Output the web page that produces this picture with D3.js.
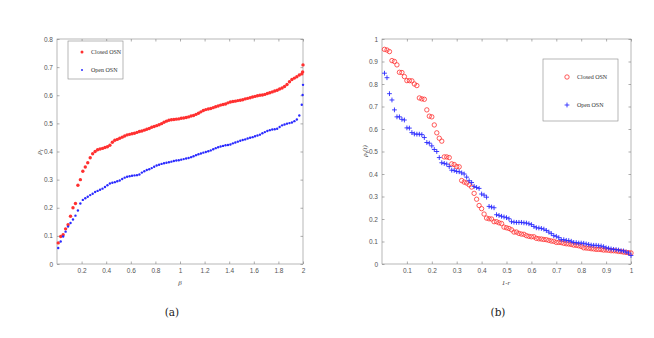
<!DOCTYPE html>
<html>
<head>
<meta charset="utf-8">
<script src="https://cdn.jsdelivr.net/npm/d3@7"></script>
<style>
  html, body { margin: 0; padding: 0; background: #fff; }
  svg { display: block; }
  .tick text { font-family: "Liberation Sans", Arial, sans-serif; font-size: 6.5px; fill: #555; }
  .tick line { stroke: #777; stroke-width: 0.6; }
  .domain { stroke: none; }
</style>
</head>
<body>
<svg id="svg" width="654" height="338"></svg>
<script>
// ---- panel (a): rho_I versus beta ----
var betaVals = d3.range(100).map(function(i){ return 0.01 + 0.02 * i; }).concat([1.997, 2.0]);
var rhoClosedA = [
  0.075,0.098,0.104,0.125,0.140,0.170,0.200,0.215,0.280,0.300,
  0.330,0.345,0.360,0.378,0.392,0.400,0.406,0.409,0.411,0.414,
  0.417,0.422,0.433,0.440,0.443,0.447,0.451,0.455,0.459,0.461,
  0.463,0.465,0.468,0.471,0.473,0.476,0.479,0.482,0.486,0.489,
  0.492,0.495,0.499,0.504,0.508,0.511,0.513,0.514,0.515,0.516,
  0.518,0.519,0.521,0.523,0.526,0.528,0.532,0.536,0.541,0.546,
  0.549,0.551,0.553,0.556,0.559,0.562,0.565,0.567,0.569,0.573,
  0.576,0.578,0.579,0.581,0.582,0.584,0.587,0.589,0.591,0.594,
  0.596,0.598,0.600,0.601,0.603,0.606,0.609,0.612,0.615,0.618,
  0.622,0.626,0.631,0.638,0.648,0.656,0.661,0.666,0.672,0.676,
  0.683,0.708
];
var rhoOpenA = [
  0.057,0.080,0.098,0.115,0.133,0.146,0.158,0.172,0.190,0.215,
  0.228,0.234,0.239,0.245,0.250,0.256,0.260,0.264,0.268,0.274,
  0.280,0.286,0.289,0.291,0.294,0.297,0.302,0.307,0.310,0.312,
  0.314,0.315,0.316,0.318,0.325,0.330,0.334,0.337,0.341,0.346,
  0.350,0.353,0.356,0.358,0.360,0.362,0.364,0.366,0.368,0.369,
  0.371,0.373,0.375,0.377,0.380,0.383,0.387,0.390,0.393,0.396,
  0.398,0.401,0.404,0.408,0.412,0.415,0.418,0.420,0.422,0.423,
  0.425,0.429,0.432,0.435,0.438,0.441,0.443,0.446,0.449,0.451,
  0.454,0.457,0.460,0.465,0.469,0.473,0.476,0.478,0.479,0.481,
  0.487,0.493,0.496,0.499,0.501,0.503,0.508,0.514,0.528,0.566,
  0.601,0.637
];

// ---- panel (b): rho_I(t) versus 1-r ----
var oneMinusR = d3.range(1, 101).map(function(i){ return i / 100; });
var rhoClosedB = [
  0.954,0.951,0.944,0.904,0.900,0.885,0.852,0.851,0.833,0.815,
  0.815,0.814,0.800,0.793,0.738,0.734,0.732,0.685,0.657,0.654,
  0.618,0.583,0.559,0.546,0.476,0.476,0.473,0.445,0.442,0.433,
  0.432,0.371,0.364,0.360,0.352,0.342,0.314,0.288,0.260,0.246,
  0.222,0.204,0.201,0.200,0.188,0.188,0.183,0.180,0.164,0.161,
  0.158,0.152,0.142,0.142,0.136,0.133,0.132,0.126,0.123,0.121,
  0.121,0.114,0.112,0.111,0.109,0.108,0.105,0.102,0.101,0.096,
  0.096,0.095,0.092,0.090,0.089,0.087,0.084,0.083,0.081,0.078,
  0.072,0.071,0.070,0.068,0.067,0.065,0.065,0.064,0.062,0.062,
  0.061,0.059,0.059,0.058,0.056,0.055,0.053,0.052,0.050,0.049
];
var rhoOpenB = [
  0.848,0.828,0.757,0.729,0.685,0.654,0.654,0.643,0.640,0.605,
  0.604,0.584,0.578,0.577,0.577,0.575,0.562,0.540,0.537,0.525,
  0.509,0.500,0.473,0.450,0.447,0.444,0.433,0.417,0.416,0.411,
  0.410,0.405,0.400,0.386,0.370,0.362,0.345,0.340,0.336,0.311,
  0.306,0.297,0.256,0.253,0.250,0.219,0.216,0.212,0.209,0.206,
  0.201,0.188,0.186,0.185,0.185,0.185,0.183,0.182,0.179,0.175,
  0.167,0.161,0.160,0.158,0.155,0.149,0.142,0.135,0.126,0.123,
  0.117,0.108,0.108,0.105,0.104,0.101,0.096,0.095,0.093,0.093,
  0.092,0.089,0.087,0.084,0.083,0.083,0.081,0.080,0.077,0.072,
  0.070,0.067,0.065,0.064,0.062,0.059,0.058,0.053,0.049,0.038
];

var seriesNames = ["Closed OSN", "Open OSN"];
var xTicksA = [0.2,0.4,0.6,0.8,1,1.2,1.4,1.6,1.8,2];
var yTicksA = [0,0.1,0.2,0.3,0.4,0.5,0.6,0.7,0.8];
var xTicksB = [0.1,0.2,0.3,0.4,0.5,0.6,0.7,0.8,0.9,1];
var yTicksB = [0,0.1,0.2,0.3,0.4,0.5,0.6,0.7,0.8,0.9,1];

var red = "#ff3030", blue = "#2a2aff";
var svg = d3.select("#svg");

function drawBox(x, y, xt, yt){
	var g = svg.append("g");
	var x0 = x.range()[0], x1 = x.range()[1], y0 = y.range()[0], y1 = y.range()[1];
	var fmt = function(d){ return String(d); };
	g.append("g").attr("transform", "translate(0," + y0 + ")")
		.call(d3.axisBottom(x).tickValues(xt).tickSizeInner(-2.5).tickSizeOuter(0).tickPadding(4).tickFormat(fmt));
	g.append("g").attr("transform", "translate(0," + y1 + ")")
		.call(d3.axisTop(x).tickValues(xt).tickSizeInner(-2.5).tickSizeOuter(0).tickFormat(""));
	g.append("g").attr("transform", "translate(" + x0 + ",0)")
		.call(d3.axisLeft(y).tickValues(yt).tickSizeInner(-2.5).tickSizeOuter(0).tickPadding(4).tickFormat(fmt));
	g.append("g").attr("transform", "translate(" + x1 + ",0)")
		.call(d3.axisRight(y).tickValues(yt).tickSizeInner(-2.5).tickSizeOuter(0).tickFormat(""));
	g.append("rect").attr("x", x0).attr("y", y1).attr("width", x1 - x0).attr("height", y0 - y1)
		.attr("fill", "none").attr("stroke", "#888").attr("stroke-width", 0.6);
}

function plus(sel, size){
	sel.append("path")
		.attr("d", "M" + (-size) + ",0H" + size + "M0," + (-size) + "V" + size)
		.attr("stroke", blue).attr("stroke-width", 0.9).attr("fill", "none");
}

// panel (a)
var xA = d3.scaleLinear().domain([0, 2]).range([57, 303]);
var yA = d3.scaleLinear().domain([0, 0.8]).range([264, 39]);
drawBox(xA, yA, xTicksA, yTicksA);

svg.append("g").selectAll("circle").data(betaVals).enter().append("circle")
	.attr("cx", function(d){ return xA(d); })
	.attr("cy", function(d, i){ return yA(rhoClosedA[i]); })
	.attr("r", 1.7).attr("fill", red);
svg.append("g").selectAll("circle").data(betaVals).enter().append("circle")
	.attr("cx", function(d){ return xA(d); })
	.attr("cy", function(d, i){ return yA(rhoOpenA[i]); })
	.attr("r", 1.2).attr("fill", blue);

// legend (a)
var legA = svg.append("g");
legA.append("rect").attr("x", 68).attr("y", 41).attr("width", 55).attr("height", 38)
	.attr("fill", "#fff").attr("stroke", "#888").attr("stroke-width", 0.6);
legA.append("circle").attr("cx", 82).attr("cy", 52).attr("r", 1.5).attr("fill", red);
legA.append("circle").attr("cx", 82).attr("cy", 70).attr("r", 1.0).attr("fill", blue);
legA.selectAll("text").data(seriesNames).enter().append("text")
	.attr("x", 91).attr("y", function(d, i){ return i ? 72 : 54; })
	.style("font-family", "'Liberation Serif', serif").style("font-size", "6px").attr("fill", "#333")
	.text(function(d){ return d; });

// panel (b)
var xB = d3.scaleLinear().domain([0, 1]).range([382, 631]);
var yB = d3.scaleLinear().domain([0, 1]).range([264, 39]);
drawBox(xB, yB, xTicksB, yTicksB);

svg.append("g").selectAll("circle").data(oneMinusR).enter().append("circle")
	.attr("cx", function(d){ return xB(d); })
	.attr("cy", function(d, i){ return yB(rhoClosedB[i]); })
	.attr("r", 2.2).attr("fill", "none").attr("stroke", red).attr("stroke-width", 0.8);
svg.append("g").selectAll("g").data(oneMinusR).enter().append("g")
	.attr("transform", function(d, i){ return "translate(" + xB(d) + "," + yB(rhoOpenB[i]) + ")"; })
	.call(plus, 2.4);

// legend (b)
var legB = svg.append("g");
legB.append("rect").attr("x", 543).attr("y", 59).attr("width", 75).attr("height", 62)
	.attr("fill", "#fff").attr("stroke", "#888").attr("stroke-width", 0.6);
legB.append("circle").attr("cx", 567).attr("cy", 77).attr("r", 2.2)
	.attr("fill", "none").attr("stroke", red).attr("stroke-width", 0.8);
legB.append("g").attr("transform", "translate(567,105)").call(plus, 2.4);
legB.selectAll("text").data(seriesNames).enter().append("text")
	.attr("x", 577).attr("y", function(d, i){ return i ? 107 : 79; })
	.style("font-family", "'Liberation Serif', serif").style("font-size", "6px").attr("fill", "#333")
	.text(function(d){ return d; });

// axis titles
function label(x, y, rot, parts){
	var t = svg.append("text").attr("transform", "translate(" + x + "," + y + ")" + (rot ? " rotate(-90)" : ""))
		.attr("text-anchor", "middle")
		.style("font-family", "'Liberation Serif', serif").style("font-style", "italic")
		.style("font-size", "7px").attr("fill", "#444");
	parts.forEach(function(p){
		var s = t.append("tspan").text(p[0]);
		if (p[1]) s.attr("dy", p[1]).style("font-size", "5px");
		if (p[2]) s.attr("dy", p[2]);
	});
}
label(180, 285, false, [["\u03b2"]]);
label(41, 152, true, [["\u03c1"], ["I", 1.5]]);
label(506, 285, false, [["1-r"]]);
label(367, 151, true, [["\u03c1"], ["I", 1.5], ["(t)", 0, -1.5]]);

// sub-figure captions
svg.selectAll(".cap").data(["(a)", "(b)"]).enter().append("text")
	.attr("x", function(d, i){ return i ? 498 : 172; }).attr("y", 316)
	.attr("text-anchor", "middle")
	.style("font-family", "'DejaVu Serif', serif").style("font-size", "10.5px").attr("fill", "#222")
	.text(function(d){ return d; });
</script>
</body>
</html>
